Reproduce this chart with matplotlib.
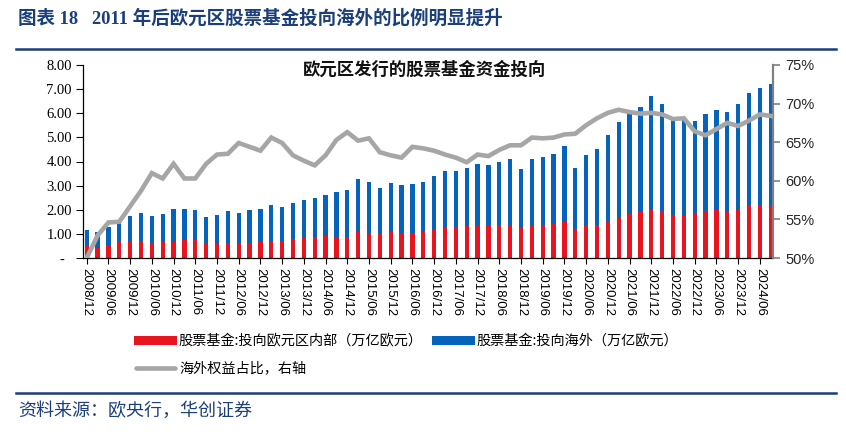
import numpy as np
import pandas as pd
import matplotlib
matplotlib.use("Agg")
import matplotlib.pyplot as plt
from matplotlib.patches import Rectangle
from matplotlib.lines import Line2D

# quarterly, 2008/12 .. 2024/09
quarters = pd.date_range("2008-12-31", periods=64, freq="QE").strftime("%Y/%m").tolist()

# 投向欧元区内部 (万亿欧元)
domestic = [0.51, 0.42, 0.48, 0.65, 0.65, 0.69, 0.61, 0.65, 0.68, 0.73,
            0.73, 0.58, 0.58, 0.61, 0.58, 0.61, 0.65, 0.69, 0.68, 0.77,
            0.83, 0.86, 0.91, 0.86, 0.86, 1.07, 1.02, 1.00, 1.07, 1.02,
            1.02, 1.07, 1.15, 1.25, 1.27, 1.32, 1.36, 1.33, 1.36, 1.36,
            1.24, 1.32, 1.36, 1.41, 1.48, 1.19, 1.32, 1.37, 1.52, 1.65,
            1.81, 1.90, 2.01, 1.93, 1.79, 1.75, 1.83, 1.94, 1.98, 1.90,
            2.02, 2.16, 2.16, 2.19]

# 投向海外 (万亿欧元)
overseas = [0.65, 0.67, 0.82, 0.87, 1.08, 1.18, 1.15, 1.18, 1.37, 1.32,
            1.27, 1.10, 1.22, 1.32, 1.29, 1.36, 1.40, 1.51, 1.45, 1.52,
            1.59, 1.61, 1.72, 1.86, 1.94, 2.19, 2.15, 1.92, 2.05, 1.99,
            2.03, 2.10, 2.23, 2.34, 2.32, 2.41, 2.52, 2.51, 2.60, 2.74,
            2.45, 2.78, 2.81, 2.89, 3.15, 2.54, 2.94, 3.13, 3.57, 3.98,
            4.25, 4.34, 4.70, 4.47, 4.06, 4.05, 3.84, 4.01, 4.15, 4.16,
            4.36, 4.69, 4.88, 5.02]

# 海外权益占比 (%)
share = [50.0, 52.9, 54.6, 54.7, 56.7, 58.7, 61.0, 60.3, 62.2, 60.3,
         60.3, 62.2, 63.4, 63.5, 64.9, 64.4, 63.9, 65.6, 64.9, 63.3,
         62.6, 62.0, 63.3, 65.3, 66.3, 65.2, 65.5, 63.7, 63.3, 63.0,
         64.4, 64.2, 63.9, 63.4, 63.0, 62.4, 63.4, 63.2, 64.0, 64.6,
         64.6, 65.6, 65.5, 65.6, 66.0, 66.1, 67.2, 68.1, 68.8, 69.2,
         68.9, 68.7, 68.8, 68.6, 68.0, 68.1, 66.4, 65.9, 66.7, 67.5,
         67.1, 67.8, 68.6, 68.4]

legend_labels = ["股票基金:投向欧元区内部（万亿欧元）",
                 "股票基金:投向海外（万亿欧元）",
                 "海外权益占比，右轴"]

RED = "#E8141F"
BLUE = "#0563BB"
GRAY = "#A6A6A6"
NAVY = "#1B3F7A"
CJK = ["Noto Sans CJK SC", "DejaVu Sans"]

plt.rcParams["font.family"] = CJK

W, H = 846, 434
fig = plt.figure(figsize=(W / 100, H / 100), dpi=100)

def fx(px):
    return px / W

def fy(py):
    return 1 - py / H

# header and footer
fig.text(fx(18), fy(18), "图表 18   2011 年后欧元区股票基金投向海外的比例明显提升",
         family=["Liberation Serif", "Noto Sans CJK SC"], weight="bold",
         fontsize=13.3, color=NAVY, va="center", ha="left")
fig.add_artist(Line2D([fx(16), fx(836)], [fy(49), fy(49)], color=NAVY, lw=1.8))
fig.add_artist(Line2D([fx(16), fx(836)], [fy(393), fy(393)], color=NAVY, lw=1.8))
fig.text(fx(18), fy(411), "资料来源：欧央行，华创证券", fontsize=13, style="italic",
         color=NAVY, va="center", ha="left")

# plot area
ax = fig.add_axes([fx(83), fy(258), fx(773) - fx(83), fy(65) - fy(258)])
x = np.arange(len(quarters))
ax.bar(x, domestic, width=0.4, color=RED, zorder=2)
ax.bar(x, overseas, width=0.4, bottom=domestic, color=BLUE, zorder=2)
ax.set_xlim(-0.34, 63.21)
ax.set_ylim(0, 8)
ax.set_yticks(np.arange(0, 9, 1))
ax.set_yticklabels(["-  "] + ["%.2f" % v for v in range(1, 9)],
                   family="Liberation Serif", fontsize=10.5)
ax.set_xticks(x[::2])
ax.set_xticklabels(quarters[::2], rotation=-90, family="Liberation Sans", fontsize=9.5)
ax.tick_params(axis="y", direction="out", length=5, width=0.8, pad=3)
ax.tick_params(axis="x", direction="out", length=4, width=0.8, pad=3)
for side in ["top", "right"]:
    ax.spines[side].set_visible(False)
ax.spines["left"].set_linewidth(0.9)
ax.spines["bottom"].set_linewidth(0.9)

ax2 = ax.twinx()
ax2.plot(x, share, color=GRAY, lw=3.3, solid_joinstyle="miter", zorder=3)
ax2.set_ylim(50, 75)
ax2.set_yticks(np.arange(50, 76, 5))
ax2.set_yticklabels(["%d%%" % v for v in range(50, 76, 5)],
                    family="Liberation Sans", fontsize=10.5, color="#262626")
ax2.tick_params(axis="y", direction="out", length=5, width=1.2, color="#808080", pad=4)
for side in ["top", "left", "bottom"]:
    ax2.spines[side].set_visible(False)
ax2.spines["right"].set_color("#808080")
ax2.spines["right"].set_linewidth(1.6)

fig.text(fx(425), fy(70), "欧元区发行的股票基金资金投向", fontsize=12.5,
         weight="bold", ha="center", va="center", color="#111111")

# legend
fig.add_artist(Rectangle((fx(134), fy(344.5)), fx(43), fy(335.5) - fy(344.5),
                         facecolor=RED, edgecolor="none"))
fig.text(fx(178), fy(340), legend_labels[0], fontsize=10.2, va="center", ha="left")
fig.add_artist(Rectangle((fx(432), fy(344.5)), fx(43), fy(335.5) - fy(344.5),
                         facecolor=BLUE, edgecolor="none"))
fig.text(fx(476), fy(340), legend_labels[1], fontsize=10.2, va="center", ha="left")
fig.add_artist(Line2D([fx(136), fx(175)], [fy(368), fy(368)], color=GRAY, lw=3.3,
                      solid_capstyle="round"))
fig.text(fx(179), fy(368), legend_labels[2], fontsize=10.2, va="center", ha="left")

fig.savefig("out.png", dpi=100)
